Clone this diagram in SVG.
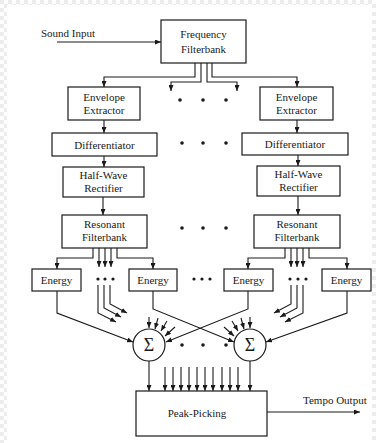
<svg xmlns="http://www.w3.org/2000/svg" width="376" height="443" viewBox="0 0 376 443">
<defs>
<pattern id="chk" width="8" height="8" patternUnits="userSpaceOnUse">
<rect width="8" height="8" fill="#ffffff"/>
<rect width="4" height="4" fill="#ececec"/>
<rect x="4" y="4" width="4" height="4" fill="#ececec"/>
</pattern>
<marker id="ah" markerWidth="6" markerHeight="5" refX="6" refY="2.5" orient="auto" markerUnits="userSpaceOnUse">
<path d="M0,0 L6,2.5 L0,5 z" fill="#1a1a1a"/>
</marker>
<style>
.box{fill:#fff;stroke:#1a1a1a;stroke-width:1.2}
.t{font-family:"Liberation Serif","Times New Roman",serif;font-size:11px;fill:#1a1a1a;text-anchor:middle}
.tl{font-family:"Liberation Serif","Times New Roman",serif;font-size:11px;fill:#1a1a1a}
.sig{font-family:"Liberation Serif","Times New Roman",serif;font-size:18px;fill:#1a1a1a;text-anchor:middle}
.c{fill:none;stroke:#1a1a1a;stroke-width:1.1}
.a{fill:none;stroke:#1a1a1a;stroke-width:1.1;marker-end:url(#ah)}
.dot{fill:#1a1a1a}
</style>
</defs>
<rect width="376" height="443" fill="#fff"/>
<rect x="0" y="0" width="7" height="443" fill="url(#chk)"/>
<rect x="0" y="0" width="376" height="5" fill="url(#chk)"/>
<rect x="372" y="0" width="4" height="443" fill="url(#chk)"/>

<g id="connectors">
<!-- sound input -->
<path class="a" d="M57,42 H161"/>
<!-- frequency filterbank outputs -->
<path class="a" d="M195,63 V77 H104 V87"/>
<path class="a" d="M201,63 V82 H171 V91"/>
<path class="a" d="M207,63 V82 H237 V91"/>
<path class="a" d="M212,63 V77 H297 V87"/>
<!-- column chains -->
<path class="a" d="M104,120 V133"/>
<path class="a" d="M297,120 V133"/>
<path class="a" d="M104,156 V167"/>
<path class="a" d="M298,155 V166"/>
<path class="a" d="M103,197 V215"/>
<path class="a" d="M298,196 V215"/>
<!-- left resonant outputs -->
<path class="a" d="M93,248 V258 H57 V269"/>
<path class="a" d="M99,248 V267"/>
<path class="a" d="M105,248 V267"/>
<path class="a" d="M111,248 V267"/>
<path class="a" d="M117,248 V258 H153 V269"/>
<!-- right resonant outputs -->
<path class="a" d="M285,248 V258 H248 V269"/>
<path class="a" d="M291,248 V267"/>
<path class="a" d="M297,248 V267"/>
<path class="a" d="M303,248 V267"/>
<path class="a" d="M309,248 V258 H347 V269"/>
<!-- bundles below dots -->
<path class="a" d="M98,285 V313 L116,322"/>
<path class="a" d="M104,285 V308 L121,317"/>
<path class="a" d="M110,285 V304 L127,313"/>
<path class="a" d="M303,285 V313 L285,322"/>
<path class="a" d="M297,285 V308 L280,317"/>
<path class="a" d="M291,285 V304 L274,313"/>
<!-- energy to sums -->
<path class="a" d="M57,291 V313 L133,342"/>
<path class="a" d="M153,291 V309 L234,342"/>
<path class="a" d="M248,291 V309 L166,342"/>
<path class="a" d="M347,291 V313 L266,342"/>
<!-- fan arrows into left sum -->
<path class="a" d="M149,317 V328"/>
<path class="a" d="M158,318 L155,329"/>
<path class="a" d="M167,321 L161,331"/>
<path class="a" d="M175,327 L165,336"/>
<!-- fan arrows into right sum -->
<path class="a" d="M250,317 V328"/>
<path class="a" d="M241,318 L244,329"/>
<path class="a" d="M232,321 L238,331"/>
<path class="a" d="M224,327 L234,336"/>
<!-- into peak picking -->
<path class="a" d="M149,361 V391"/>
<path class="a" d="M250,361 V391"/>
<path class="a" d="M165,367 V391"/>
<path class="a" d="M173,367 V391"/>
<path class="a" d="M181,367 V391"/>
<path class="a" d="M189,367 V391"/>
<path class="a" d="M197,367 V391"/>
<path class="a" d="M205,367 V391"/>
<path class="a" d="M213,367 V391"/>
<path class="a" d="M222,367 V391"/>
<path class="a" d="M230,367 V391"/>
<path class="a" d="M238,367 V391"/>
<!-- tempo output -->
<path class="a" d="M267,412 H360"/>
</g>

<g id="dots">
<circle class="dot" cx="180" cy="100" r="1.8"/><circle class="dot" cx="203" cy="100" r="1.8"/><circle class="dot" cx="226" cy="100" r="1.8"/>
<circle class="dot" cx="182" cy="143" r="1.8"/><circle class="dot" cx="203" cy="143" r="1.8"/><circle class="dot" cx="226" cy="143" r="1.8"/>
<circle class="dot" cx="182" cy="228" r="1.8"/><circle class="dot" cx="203" cy="228" r="1.8"/><circle class="dot" cx="226" cy="228" r="1.8"/>
<circle class="dot" cx="98" cy="279" r="1.6"/><circle class="dot" cx="105" cy="279" r="1.6"/><circle class="dot" cx="113" cy="279" r="1.6"/>
<circle class="dot" cx="194" cy="279" r="1.6"/><circle class="dot" cx="202" cy="279" r="1.6"/><circle class="dot" cx="210" cy="279" r="1.6"/>
<circle class="dot" cx="290" cy="279" r="1.6"/><circle class="dot" cx="298" cy="279" r="1.6"/><circle class="dot" cx="306" cy="279" r="1.6"/>
<circle class="dot" cx="182" cy="345" r="1.8"/><circle class="dot" cx="203" cy="345" r="1.8"/><circle class="dot" cx="226" cy="345" r="1.8"/>
</g>

<g id="sound-input"><text class="tl" x="41" y="37">Sound Input</text></g>

<g id="frequency-filterbank">
<rect class="box" x="161" y="20" width="85" height="43"/>
<text class="t" x="203.5" y="38">Frequency</text>
<text class="t" x="203.5" y="53">Filterbank</text>
</g>

<g id="envelope-left">
<rect class="box" x="68" y="87" width="72" height="33"/>
<text class="t" x="104" y="101">Envelope</text>
<text class="t" x="104" y="114">Extractor</text>
</g>
<g id="envelope-right">
<rect class="box" x="260" y="87" width="73" height="33"/>
<text class="t" x="296.5" y="101">Envelope</text>
<text class="t" x="296.5" y="114">Extractor</text>
</g>

<g id="diff-left">
<rect class="box" x="52" y="133" width="105" height="23"/>
<text class="t" x="104.5" y="148.5">Differentiator</text>
</g>
<g id="diff-right">
<rect class="box" x="242" y="133" width="106" height="22"/>
<text class="t" x="295" y="148">Differentiator</text>
</g>

<g id="hwr-left">
<rect class="box" x="63" y="167" width="81" height="30"/>
<text class="t" x="103.5" y="179">Half-Wave</text>
<text class="t" x="103.5" y="192">Rectifier</text>
</g>
<g id="hwr-right">
<rect class="box" x="257" y="166" width="83" height="30"/>
<text class="t" x="298.5" y="178">Half-Wave</text>
<text class="t" x="298.5" y="191">Rectifier</text>
</g>

<g id="res-left">
<rect class="box" x="62" y="215" width="85" height="33"/>
<text class="t" x="104.5" y="228">Resonant</text>
<text class="t" x="104.5" y="241">Filterbank</text>
</g>
<g id="res-right">
<rect class="box" x="254" y="215" width="86" height="33"/>
<text class="t" x="297" y="228">Resonant</text>
<text class="t" x="297" y="241">Filterbank</text>
</g>

<g id="energy-1"><rect class="box" x="32" y="269" width="49" height="22"/><text class="t" x="56.5" y="284">Energy</text></g>
<g id="energy-2"><rect class="box" x="129" y="269" width="48" height="22"/><text class="t" x="153" y="284">Energy</text></g>
<g id="energy-3"><rect class="box" x="224" y="269" width="49" height="22"/><text class="t" x="248.5" y="284">Energy</text></g>
<g id="energy-4"><rect class="box" x="322" y="269" width="49" height="22"/><text class="t" x="346.5" y="284">Energy</text></g>

<g id="sum-left">
<circle class="box" cx="149" cy="345" r="16"/>
<text class="sig" x="149" y="351">Σ</text>
</g>
<g id="sum-right">
<circle class="box" cx="250" cy="345" r="16"/>
<text class="sig" x="250" y="351">Σ</text>
</g>

<g id="peak-picking">
<rect class="box" x="136" y="391" width="131" height="45"/>
<text class="t" x="197" y="417">Peak-Picking</text>
</g>

<g id="tempo-output"><text class="tl" x="303" y="404">Tempo Output</text></g>
</svg>
